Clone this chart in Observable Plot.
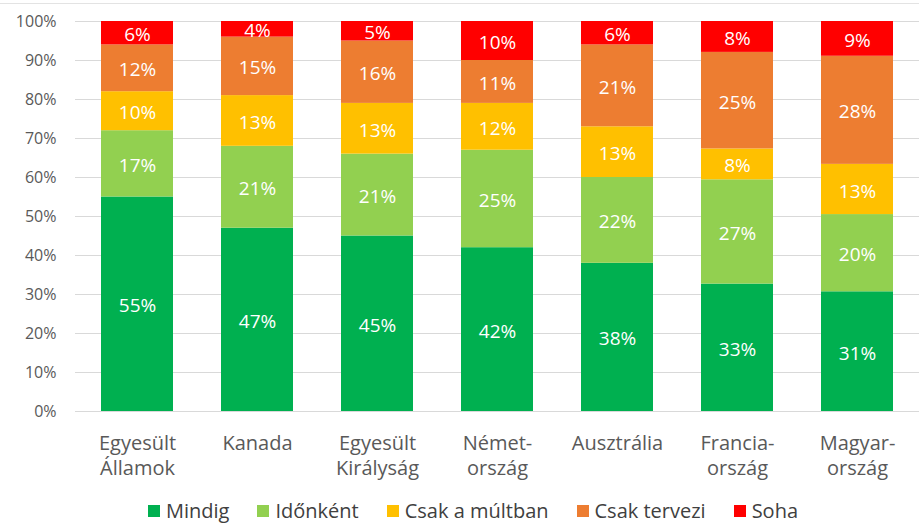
<!DOCTYPE html>
<html>
<head>
<meta charset="utf-8">
<script src="https://cdn.jsdelivr.net/npm/d3@7"></script>
<script src="https://cdn.jsdelivr.net/npm/@observablehq/plot@0.6"></script>
<style>
  html, body { margin: 0; padding: 0; background: #fff; }
  body { width: 919px; height: 524px; position: relative; overflow: hidden; font-family: "Open Sans", sans-serif; }
  #topline { position: absolute; left: 0; top: 3px; width: 919px; height: 1px; background: #e3e3e3; }
  #chart { position: absolute; left: 0; top: 0; }
  #legend { position: absolute; left: 0; top: 501px; width: 919px; box-sizing: border-box; padding-left: 27px; display: flex; justify-content: center; gap: 28px; font-size: 20px; line-height: 20px; color: #404040; }
  #legend .item { display: flex; align-items: center; gap: 6px; }
  #legend .sw { width: 12px; height: 12px; display: inline-block; }
</style>
</head>
<body>
<div id="topline"></div>
<div id="chart"></div>
<div id="legend"></div>
<script>
const countries = ["Egyesült\nÁllamok", "Kanada", "Egyesült\nKirályság", "Német-\nország", "Ausztrália", "Francia-\nország", "Magyar-\nország"];
const series = ["Mindig", "Időnként", "Csak a múltban", "Csak tervezi", "Soha"];
const colors = ["#00B050", "#92D050", "#FFC000", "#ED7D31", "#FF0000"];
const mindig      = [55, 47, 45, 42, 38, 33, 31];
const idonkent    = [17, 21, 21, 25, 22, 27, 20];
const csakMultban = [10, 13, 13, 12, 13, 8, 13];
const csakTervezi = [12, 15, 16, 11, 21, 25, 28];
const soha        = [6, 4, 5, 10, 6, 8, 9];
const yTicks = [0, 0.1, 0.2, 0.3, 0.4, 0.5, 0.6, 0.7, 0.8, 0.9, 1];

const valuesBySeries = [mindig, idonkent, csakMultban, csakTervezi, soha];
const data = [];
series.forEach((s, si) => {
  countries.forEach((c, ci) => {
    data.push({country: c, series: s, value: valuesBySeries[si][ci]});
  });
});

const stackOpts = {x: "country", y: "value", z: "series", order: series, offset: "normalize"};

const chart = Plot.plot({
  width: 919,
  height: 490,
  marginTop: 21,
  marginBottom: 79,
  marginLeft: 75,
  marginRight: 0,
  style: {fontFamily: "Open Sans, sans-serif", background: "transparent"},
  x: {domain: countries, paddingInner: 0.4, paddingOuter: 0.2, label: null},
  y: {domain: [0, 1], label: null},
  color: {domain: series, range: colors},
  marks: [
    Plot.gridY(yTicks, {stroke: "#d9d9d9", strokeOpacity: 1}),
    Plot.barY(data, Plot.stackY({...stackOpts, fill: "series"})),
    Plot.text(data, Plot.stackY({...stackOpts, text: d => d.value + "%", fill: "white", fontSize: 19, dy: 2})),
    Plot.axisY({ticks: yTicks, tickFormat: d3.format(".0%"), tickSize: 0, tickPadding: 19, fontSize: 16, fill: "#595959", label: null}),
    Plot.axisX({tickSize: 0, tickPadding: 21, fontSize: 20, fill: "#595959", label: null, lineHeight: 1.25})
  ]
});
document.getElementById("chart").appendChild(chart);

const legend = document.getElementById("legend");
series.forEach((s, i) => {
  const item = document.createElement("span");
  item.className = "item";
  const sw = document.createElement("span");
  sw.className = "sw";
  sw.style.background = colors[i];
  const t = document.createElement("span");
  t.textContent = s;
  item.appendChild(sw);
  item.appendChild(t);
  legend.appendChild(item);
});
</script>
</body>
</html>
